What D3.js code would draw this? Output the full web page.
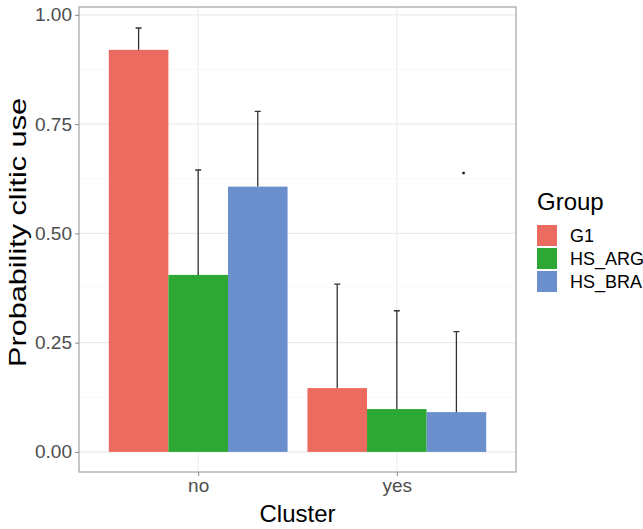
<html lang="en">
<head>
  <meta charset="UTF-8" />
  <title>Probability clitic use by Cluster and Group</title>
  <style>
    body { margin: 0; background: #fff; }
    svg { display: block; font-family: "Liberation Sans", Arial, sans-serif; }
    .grid-major { stroke: #ebebeb; stroke-width: 1.1px; }
    .grid-minor { stroke: #f4f4f4; stroke-width: 0.6px; }
    .tick-label { fill: #4d4d4d; font-size: 19px; }
    .axis-title { fill: #000; font-size: 24px; }
    .errbar { stroke: #333; stroke-width: 1.3px; fill: none; }
  </style>
</head>
<body>
  <svg width="643" height="529"></svg>

  <script src="https://d3js.org/d3.v7.min.js"></script>
  <script>
    // data
    const clusters = ["no", "yes"];
    const groups = ["G1", "HS_ARG", "HS_BRA"];
    const colors = ["#ec6b60", "#2ea835", "#6a8fcc"];
    // mean probability per cluster, one array per group
    const meanG1 = [0.920, 0.146];
    const meanARG = [0.405, 0.098];
    const meanBRA = [0.607, 0.091];
    // upper end of the error bar
    const upperG1 = [0.970, 0.384];
    const upperARG = [0.645, 0.323];
    const upperBRA = [0.779, 0.275];
    const yTicks = [0, 0.25, 0.5, 0.75, 1];
    const yMinor = [0.125, 0.375, 0.625, 0.875];
    // a stray dot that sits in the panel of the original figure
    const strayPoints = [{ x: 2.336, y: 0.638 }];

    const means = [meanG1, meanARG, meanBRA];
    const uppers = [upperG1, upperARG, upperBRA];
    const bars = [];
    clusters.forEach((c, ci) => {
      groups.forEach((g, gi) => {
        bars.push({ cluster: c, ci: ci, group: g, gi: gi, value: means[gi][ci], upper: uppers[gi][ci] });
      });
    });

    const panel = { left: 79, right: 516, top: 7, bottom: 472 };
    const svg = d3.select("svg");

    const x = d3.scaleLinear().domain([0.4, 2.6]).range([panel.left, panel.right]);
    const y = d3.scaleLinear().domain([-0.046, 1.018]).range([panel.bottom, panel.top]);
    const sub = d3.scaleBand().domain(groups).range([-0.45, 0.45]);
    const color = d3.scaleOrdinal().domain(groups).range(colors);

    // grid
    const grid = svg.append("g");
    grid.selectAll(".ymin").data(yMinor).join("line")
      .attr("class", "grid-minor")
      .attr("x1", panel.left).attr("x2", panel.right)
      .attr("y1", d => y(d)).attr("y2", d => y(d));
    grid.selectAll(".ymaj").data(yTicks).join("line")
      .attr("class", "grid-major")
      .attr("x1", panel.left).attr("x2", panel.right)
      .attr("y1", d => y(d)).attr("y2", d => y(d));
    grid.selectAll(".xmaj").data(clusters).join("line")
      .attr("class", "grid-major")
      .attr("x1", (d, i) => x(i + 1)).attr("x2", (d, i) => x(i + 1))
      .attr("y1", panel.top).attr("y2", panel.bottom);

    // bars
    svg.append("g").selectAll("rect").data(bars).join("rect")
      .attr("x", d => x(d.ci + 1 + sub(d.group)))
      .attr("width", d => x(sub.bandwidth()) - x(0))
      .attr("y", d => y(d.value))
      .attr("height", d => y(0) - y(d.value))
      .attr("fill", d => color(d.group));

    // error bars (upper half only)
    const eb = svg.append("g");
    bars.forEach(d => {
      const cx = x(d.ci + 1 + sub(d.group) + sub.bandwidth() / 2);
      eb.append("path").attr("class", "errbar")
        .attr("d", `M${cx},${y(d.value)}V${y(d.upper)}M${cx - 3},${y(d.upper)}H${cx + 3}`);
    });

    svg.append("g").selectAll("rect").data(strayPoints).join("rect")
      .attr("x", d => x(d.x) - 1.2).attr("y", d => y(d.y) - 1.2)
      .attr("width", 2.4).attr("height", 2.4).attr("fill", "#111");

    // panel border
    svg.append("rect")
      .attr("x", panel.left).attr("y", panel.top)
      .attr("width", panel.right - panel.left).attr("height", panel.bottom - panel.top)
      .attr("fill", "none").attr("stroke", "#9a9a9a").attr("stroke-width", 1.1);

    // y axis
    const yAxis = d3.axisLeft(y).tickValues(yTicks).tickFormat(d3.format(".2f")).tickSize(4).tickPadding(3);
    const ya = svg.append("g").attr("transform", `translate(${panel.left},0)`).call(yAxis);
    ya.select(".domain").remove();
    ya.selectAll(".tick line").attr("stroke", "#888");
    ya.selectAll(".tick text").attr("class", "tick-label").attr("font-family", null).attr("font-size", null).attr("fill", null);

    // x axis
    const xAxis = d3.axisBottom(x).tickValues([1, 2]).tickFormat(d => clusters[d - 1]).tickSize(4).tickPadding(3);
    const xa = svg.append("g").attr("transform", `translate(0,${panel.bottom})`).call(xAxis);
    xa.select(".domain").remove();
    xa.selectAll(".tick line").attr("stroke", "#888");
    xa.selectAll(".tick text").attr("class", "tick-label").attr("font-family", null).attr("font-size", null).attr("fill", null);

    // axis titles
    svg.append("text").attr("class", "axis-title")
      .attr("x", (panel.left + panel.right) / 2).attr("y", 521.5)
      .attr("text-anchor", "middle").text("Cluster");
    svg.append("text").attr("class", "axis-title")
      .attr("transform", "translate(26,232.5) rotate(-90)")
      .attr("text-anchor", "middle")
      .attr("textLength", 269).attr("lengthAdjust", "spacingAndGlyphs")
      .text("Probability clitic use");

    // legend
    const legend = svg.append("g");
    legend.append("text").attr("class", "axis-title")
      .attr("x", 537).attr("y", 210).text("Group");
    const items = legend.selectAll(".item").data(groups).join("g")
      .attr("transform", (d, i) => `translate(537,${225 + i * 23})`);
    items.append("rect").attr("width", 20).attr("height", 21).attr("fill", d => color(d));
    items.append("text").attr("x", 33).attr("y", 10.5).attr("dy", "0.36em")
      .attr("font-size", 18).attr("fill", "#000").text(d => d);
  </script>
</body>
</html>
